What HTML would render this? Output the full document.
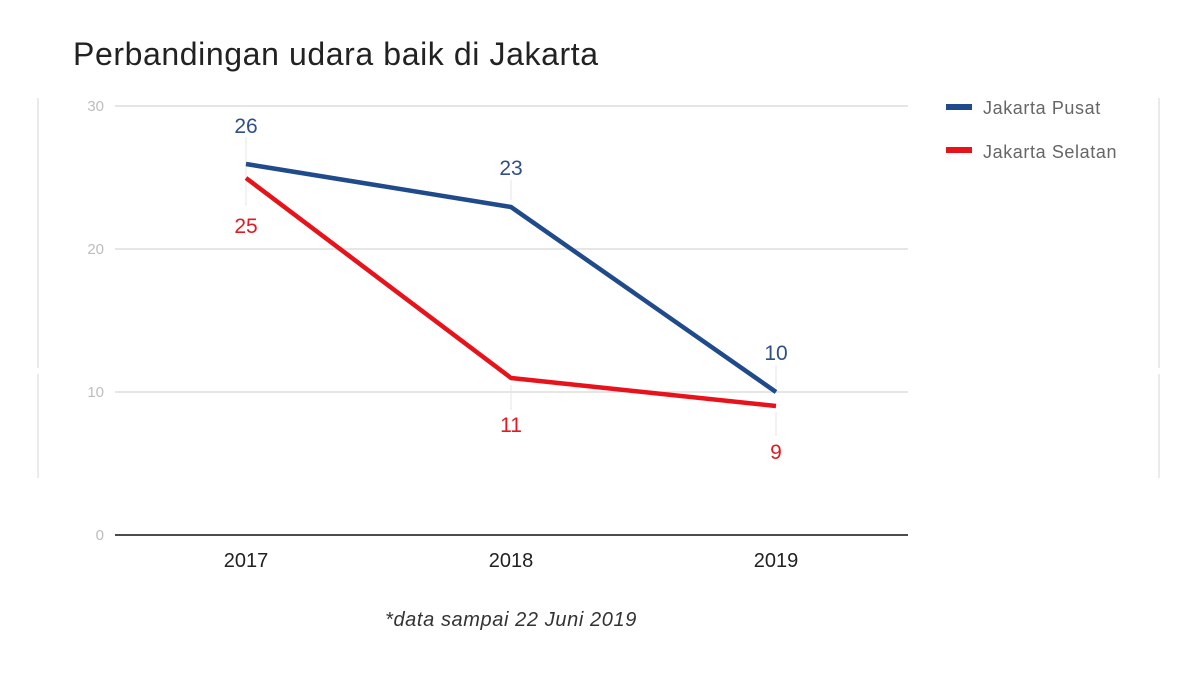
<!DOCTYPE html>
<html><head><meta charset="utf-8"><style>
html,body{margin:0;padding:0;background:#fff;width:1200px;height:675px;overflow:hidden}
svg{display:block;font-family:"Liberation Sans",sans-serif}
</style></head><body>
<svg width="1200" height="675" viewBox="0 0 1200 675">
<text x="73" y="65" font-size="32" letter-spacing="0.6" fill="#222">Perbandingan udara baik di Jakarta</text>
<line x1="38" y1="98" x2="38" y2="368" stroke="#e4e4e4" stroke-width="1.5"/>
<line x1="38" y1="374" x2="38" y2="478" stroke="#e4e4e4" stroke-width="1.5"/>
<line x1="1159" y1="98" x2="1159" y2="368" stroke="#e4e4e4" stroke-width="1.5"/>
<line x1="1159" y1="374" x2="1159" y2="478" stroke="#e4e4e4" stroke-width="1.5"/>
<g stroke="#d6d6d6" stroke-width="1.3">
<line x1="115" y1="106" x2="908" y2="106"/>
<line x1="115" y1="249" x2="908" y2="249"/>
<line x1="115" y1="392" x2="908" y2="392"/>
</g>
<line x1="115" y1="535" x2="908" y2="535" stroke="#333" stroke-width="1.8"/>
<g font-size="15" fill="#bdbdbd" text-anchor="end">
<text x="104" y="111">30</text>
<text x="104" y="254">20</text>
<text x="104" y="397">10</text>
<text x="104" y="540">0</text>
</g>
<g stroke="#e6e6e6" stroke-width="1">
<line x1="246" y1="137" x2="246" y2="206"/>
<line x1="511" y1="180" x2="511" y2="200"/>
<line x1="511" y1="385" x2="511" y2="410"/>
<line x1="776" y1="365" x2="776" y2="388"/>
<line x1="776" y1="412" x2="776" y2="436"/>
</g>
<polyline points="246,164 511,207 776,392" fill="none" stroke="#1f4a8c" stroke-width="4.5" stroke-linejoin="round"/>
<polyline points="246,178 511,378 776,406" fill="none" stroke="#e8121b" stroke-width="4.5" stroke-linejoin="round"/>
<g font-size="21" text-anchor="middle">
<text x="246" y="133" fill="#2f4f86">26</text>
<text x="246" y="233" fill="#e31a22">25</text>
<text x="511" y="175" fill="#2f4f86">23</text>
<text x="511" y="432" fill="#e31a22">11</text>
<text x="776" y="360" fill="#2f4f86">10</text>
<text x="776" y="459" fill="#e31a22">9</text>
</g>
<g font-size="20" fill="#222" text-anchor="middle">
<text x="246" y="567">2017</text>
<text x="511" y="567">2018</text>
<text x="776" y="567">2019</text>
</g>
<rect x="946" y="104" width="26" height="6" fill="#1f4a8c"/>
<rect x="946" y="147" width="26" height="6" fill="#e8121b"/>
<g font-size="18" letter-spacing="0.6" fill="#666">
<text x="983" y="114">Jakarta Pusat</text>
<text x="983" y="158">Jakarta Selatan</text>
</g>
<text x="511" y="626" font-size="20" letter-spacing="0.6" font-style="italic" fill="#333" text-anchor="middle">*data sampai 22 Juni 2019</text>
</svg>
</body></html>
